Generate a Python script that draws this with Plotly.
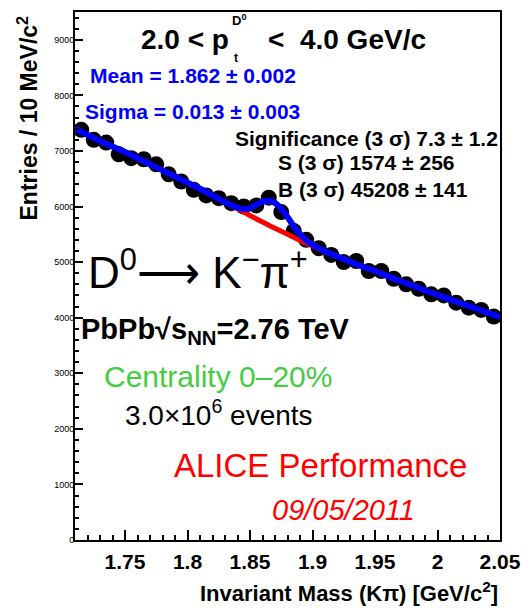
import plotly.graph_objects as go

# ---------------- data ----------------
data_x = [1.715, 1.725, 1.735, 1.745, 1.755, 1.765, 1.775, 1.785, 1.795, 1.805,
          1.815, 1.825, 1.835, 1.845, 1.855, 1.865, 1.875, 1.885, 1.895, 1.905,
          1.915, 1.925, 1.935, 1.945, 1.955, 1.965, 1.975, 1.985, 1.995, 2.005,
          2.015, 2.025, 2.035, 2.045]
data_y = [7380, 7200, 7150, 6940, 6870, 6850, 6760, 6580, 6450, 6300,
          6200, 6150, 6060, 6000, 6020, 6160, 5900, 5560, 5400, 5250,
          5130, 5000, 5020, 4840, 4840, 4700, 4600, 4520, 4420, 4400,
          4270, 4180, 4140, 4020]

bkg_x = [1.71, 1.72, 1.73, 1.74, 1.75, 1.76, 1.77, 1.78, 1.79, 1.80,
         1.81, 1.82, 1.83, 1.84, 1.85, 1.86, 1.87, 1.88, 1.89, 1.90,
         1.91, 1.92, 1.93, 1.94, 1.95, 1.96, 1.97, 1.98, 1.99, 2.00,
         2.01, 2.02, 2.03, 2.04, 2.05]
bkg_y = [7400, 7290, 7180, 7080, 6980, 6870, 6760, 6650, 6540, 6430,
         6320, 6200, 6080, 5960, 5840, 5720, 5610, 5500, 5390, 5290,
         5190, 5100, 5010, 4920, 4840, 4750, 4660, 4580, 4490, 4410,
         4330, 4250, 4170, 4090, 4010]

fit_x = [1.71, 1.72, 1.73, 1.74, 1.75, 1.76, 1.77, 1.78, 1.79, 1.80,
         1.81, 1.82, 1.825, 1.83, 1.835, 1.84, 1.845, 1.85, 1.855, 1.86,
         1.865, 1.87, 1.875, 1.88, 1.885, 1.89, 1.895, 1.90, 1.905, 1.91,
         1.92, 1.93, 1.94, 1.95, 1.96, 1.97, 1.98, 1.99, 2.00, 2.01,
         2.02, 2.03, 2.04, 2.05]
fit_y = [7400, 7290, 7180, 7080, 6980, 6870, 6760, 6650, 6540, 6430,
         6320, 6200, 6140, 6080, 6025, 5980, 5955, 5970, 6030, 6090,
         6105, 6065, 5960, 5810, 5645, 5500, 5390, 5315, 5250, 5195,
         5100, 5010, 4920, 4840, 4750, 4660, 4580, 4490, 4410, 4330,
         4250, 4170, 4090, 4010]

x_tickvals = [1.75, 1.8, 1.85, 1.9, 1.95, 2.0, 2.05]
x_ticktext = ["1.75", "1.8", "1.85", "1.9", "1.95", "2", "2.05"]
y_tickvals = [0, 1000, 2000, 3000, 4000, 5000, 6000, 7000, 8000, 9000]
y_ticktext = ["0", "1000", "2000", "3000", "4000", "5000", "6000", "7000", "8000", "9000"]

# ---------------- layout geometry ----------------
# the page body adds an 8 px margin, so the figure is built 8 px smaller
# and all reference pixel positions are shifted by that offset
OFF = 8
W, H = 531 - OFF, 608 - OFF
L, R, T, B = 75 - OFF, 500 - OFF, 10 - OFF, 540 - OFF


def px(xp):
    return (xp - OFF - L) / (R - L)


def py(yp):
    return (B - (yp - OFF)) / (B - T)


FONT = "Liberation Sans, Arial, Helvetica, sans-serif"

fig = go.Figure()
fig.add_trace(go.Scatter(x=data_x, y=data_y, mode="markers",
                         marker=dict(symbol="circle", size=16, color="black"),
                         showlegend=False, hoverinfo="skip"))
fig.add_trace(go.Scatter(x=bkg_x, y=bkg_y, mode="lines",
                         line=dict(color="#ff0000", width=5, shape="spline"),
                         showlegend=False, hoverinfo="skip"))
fig.add_trace(go.Scatter(x=fit_x, y=fit_y, mode="lines",
                         line=dict(color="#0000ff", width=6, shape="spline"),
                         showlegend=False, hoverinfo="skip"))


def ann(text, x, y, size, color="black", xanchor="left", yanchor="middle",
        bold=False, italic=False, angle=0, family=FONT):
    t = text
    if bold:
        t = "<b>" + t + "</b>"
    if italic:
        t = "<i>" + t + "</i>"
    fig.add_annotation(text=t, x=px(x), y=py(y), xref="paper", yref="paper",
                       xanchor=xanchor, yanchor=yanchor, showarrow=False,
                       textangle=angle,
                       font=dict(family=family, size=size, color=color))


# title line
ann("2.0 &lt; p", 231, 38, 28, xanchor="right", bold=True)
ann("&lt;  4.0 GeV/c", 266, 38, 28, bold=True)
ann("t", 236, 56, 12, xanchor="center", bold=True)
ann("D<sup>0</sup>", 230, 18, 13, bold=True)

ann("Mean = 1.862 ± 0.002", 88, 74, 21, color="#0000ff", bold=True)
ann("Sigma = 0.013 ± 0.003", 83, 110, 21, color="#0000ff", bold=True)
ann("Significance (3 σ) 7.3 ± 1.2", 500, 137, 21, xanchor="right", bold=True)
ann("S (3 σ) 1574 ± 256", 276, 161, 21, bold=True)
ann("B (3 σ) 45208 ± 141", 276, 188, 21, bold=True)

ann("D<sup>0</sup>⟶ K<sup>−</sup>π<sup>+</sup>", 86, 268, 44)
ann("PbPb√s<sub>NN</sub>=2.76 TeV", 79, 330, 29, bold=True)
ann("Centrality 0–20%", 102, 376, 30, color="#44cc44")
ann("3.0×10<sup>6</sup> events", 123, 413, 28)
ann("ALICE Performance", 172, 465, 33, color="#ff0000")
ann("09/05/2011", 270, 510, 29, color="#ff0000", italic=True)

ann("Invariant Mass (Kπ) [GeV/c<sup>2</sup>]", 500, 592, 22, xanchor="right", bold=True)
ann("Entries / 10 MeV/c<sup>2</sup>", 28, 12, 23, xanchor="center", yanchor="top",
    bold=True, angle=-90)

fig.update_layout(
    width=W, height=H,
    margin=dict(l=L, r=W - R, t=T, b=H - B, pad=0),
    paper_bgcolor="white", plot_bgcolor="white",
    showlegend=False,
    font=dict(family=FONT, color="black"),
)
fig.update_xaxes(
    range=[1.71, 2.05], showgrid=False, zeroline=False,
    showline=True, linecolor="black", linewidth=2, mirror=True,
    ticks="inside", ticklen=10, tickwidth=1.5, tickcolor="black",
    tickvals=x_tickvals, ticktext=x_ticktext,
    tickfont=dict(family=FONT, size=21, color="black", weight="bold"),
    ticklabelstandoff=2,
    minor=dict(ticks="inside", ticklen=5, dtick=0.01, tick0=1.70,
               tickcolor="black", tickwidth=1.5, showgrid=False),
)
fig.update_yaxes(
    range=[0, 9500], showgrid=False, zeroline=False,
    showline=True, linecolor="black", linewidth=2, mirror=True,
    ticks="inside", ticklen=8, tickwidth=1.5, tickcolor="black",
    tickvals=y_tickvals, ticktext=y_ticktext,
    tickfont=dict(family=FONT, size=9, color="black"),
    ticklabelstandoff=-3, ticklabeloverflow="allow",
    minor=dict(ticks="inside", ticklen=4, dtick=200, tick0=0,
               tickcolor="black", tickwidth=1.5, showgrid=False),
)

fig.write_html("out.html")
